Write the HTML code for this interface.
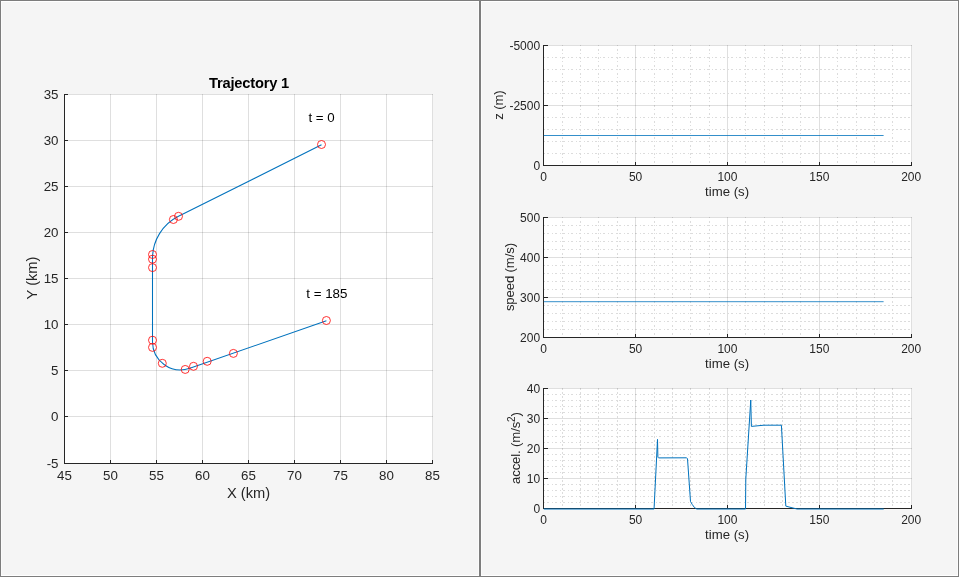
<!DOCTYPE html>
<html><head><meta charset="utf-8"><title>Trajectory 1</title>
<style>
html,body{margin:0;padding:0;background:#f5f5f5;overflow:hidden}
svg{display:block}
text{font-family:"Liberation Sans",sans-serif;fill:#262626}
.tk{font-size:13.33px}
.lb{font-size:14.67px}
.tk2{font-size:12px}
.lb2{font-size:13.2px}
.ti{font-size:14.67px;font-weight:bold;fill:#000}
.ax{stroke:#262626;stroke-width:1;fill:none;shape-rendering:crispEdges}
.gr{stroke:#262626;stroke-opacity:0.15;stroke-width:1;fill:none;shape-rendering:crispEdges}
.mgr{stroke:#dcdcdc;stroke-width:1;fill:none;stroke-dasharray:2 2;shape-rendering:crispEdges}
.mgv3{stroke:#dcdcdc;stroke-width:1;fill:none;stroke-dasharray:2 2;shape-rendering:crispEdges}
.mgv{stroke:#dcdcdc;stroke-width:1;fill:none;stroke-dasharray:2 2 1 3;stroke-dashoffset:4;shape-rendering:crispEdges}
.mg{stroke:#dcdcdc;stroke-width:1;fill:none;stroke-dasharray:2 3 1 2;stroke-dashoffset:4;shape-rendering:crispEdges}
.ln{stroke:#0072bd;stroke-width:0.8;fill:none;stroke-linejoin:round}
.mk{stroke:#ff0000;stroke-width:0.8;fill:none}
</style></head><body>
<svg width="959" height="577" viewBox="0 0 959 577">

<rect x="0" y="0" width="959" height="577" fill="#f5f5f5"/>
<rect x="0.5" y="0.5" width="479" height="576" fill="none" stroke="#7d7d7d" shape-rendering="crispEdges"/>
<rect x="1.5" y="1.5" width="477" height="574" fill="none" stroke="#fbfbfb" shape-rendering="crispEdges"/>
<path d="M1 1.5H479 M1 575.5H479" fill="none" stroke="#ffffff" shape-rendering="crispEdges"/>
<rect x="480.5" y="0.5" width="478" height="576" fill="none" stroke="#7d7d7d" shape-rendering="crispEdges"/>
<rect x="481.5" y="1.5" width="476" height="574" fill="none" stroke="#fbfbfb" shape-rendering="crispEdges"/>
<path d="M481 1.5H958 M481 575.5H958" fill="none" stroke="#ffffff" shape-rendering="crispEdges"/>
<rect x="64" y="94" width="369" height="370" fill="#fff"/>
<line x1="64.5" x2="64.5" y1="94" y2="464" class="gr"/>
<line x1="110.5" x2="110.5" y1="94" y2="464" class="gr"/>
<line x1="156.5" x2="156.5" y1="94" y2="464" class="gr"/>
<line x1="202.5" x2="202.5" y1="94" y2="464" class="gr"/>
<line x1="248.5" x2="248.5" y1="94" y2="464" class="gr"/>
<line x1="294.5" x2="294.5" y1="94" y2="464" class="gr"/>
<line x1="340.5" x2="340.5" y1="94" y2="464" class="gr"/>
<line x1="386.5" x2="386.5" y1="94" y2="464" class="gr"/>
<line x1="432.5" x2="432.5" y1="94" y2="464" class="gr"/>
<line x1="64" x2="433" y1="94.5" y2="94.5" class="gr"/>
<line x1="64" x2="433" y1="140.5" y2="140.5" class="gr"/>
<line x1="64" x2="433" y1="186.5" y2="186.5" class="gr"/>
<line x1="64" x2="433" y1="232.5" y2="232.5" class="gr"/>
<line x1="64" x2="433" y1="278.5" y2="278.5" class="gr"/>
<line x1="64" x2="433" y1="324.5" y2="324.5" class="gr"/>
<line x1="64" x2="433" y1="370.5" y2="370.5" class="gr"/>
<line x1="64" x2="433" y1="416.5" y2="416.5" class="gr"/>
<line x1="64" x2="433" y1="463.5" y2="463.5" class="gr"/>
<line x1="64.5" x2="64.5" y1="94" y2="464" class="ax"/>
<line x1="64" x2="433" y1="463.5" y2="463.5" class="ax"/>
<line x1="64.5" x2="64.5" y1="460" y2="464" class="ax"/>
<line x1="110.5" x2="110.5" y1="460" y2="464" class="ax"/>
<line x1="156.5" x2="156.5" y1="460" y2="464" class="ax"/>
<line x1="202.5" x2="202.5" y1="460" y2="464" class="ax"/>
<line x1="248.5" x2="248.5" y1="460" y2="464" class="ax"/>
<line x1="294.5" x2="294.5" y1="460" y2="464" class="ax"/>
<line x1="340.5" x2="340.5" y1="460" y2="464" class="ax"/>
<line x1="386.5" x2="386.5" y1="460" y2="464" class="ax"/>
<line x1="432.5" x2="432.5" y1="460" y2="464" class="ax"/>
<line x1="64" x2="68" y1="94.5" y2="94.5" class="ax"/>
<line x1="64" x2="68" y1="140.5" y2="140.5" class="ax"/>
<line x1="64" x2="68" y1="186.5" y2="186.5" class="ax"/>
<line x1="64" x2="68" y1="232.5" y2="232.5" class="ax"/>
<line x1="64" x2="68" y1="278.5" y2="278.5" class="ax"/>
<line x1="64" x2="68" y1="324.5" y2="324.5" class="ax"/>
<line x1="64" x2="68" y1="370.5" y2="370.5" class="ax"/>
<line x1="64" x2="68" y1="416.5" y2="416.5" class="ax"/>
<line x1="64" x2="68" y1="463.5" y2="463.5" class="ax"/>
<text x="64.5" y="479.6" text-anchor="middle" class="tk">45</text>
<text x="110.5" y="479.6" text-anchor="middle" class="tk">50</text>
<text x="156.5" y="479.6" text-anchor="middle" class="tk">55</text>
<text x="202.5" y="479.6" text-anchor="middle" class="tk">60</text>
<text x="248.5" y="479.6" text-anchor="middle" class="tk">65</text>
<text x="294.5" y="479.6" text-anchor="middle" class="tk">70</text>
<text x="340.5" y="479.6" text-anchor="middle" class="tk">75</text>
<text x="386.5" y="479.6" text-anchor="middle" class="tk">80</text>
<text x="432.5" y="479.6" text-anchor="middle" class="tk">85</text>
<text x="58.5" y="98.8" text-anchor="end" class="tk">35</text>
<text x="58.5" y="144.8" text-anchor="end" class="tk">30</text>
<text x="58.5" y="190.8" text-anchor="end" class="tk">25</text>
<text x="58.5" y="236.8" text-anchor="end" class="tk">20</text>
<text x="58.5" y="282.8" text-anchor="end" class="tk">15</text>
<text x="58.5" y="328.8" text-anchor="end" class="tk">10</text>
<text x="58.5" y="374.8" text-anchor="end" class="tk">5</text>
<text x="58.5" y="420.8" text-anchor="end" class="tk">0</text>
<text x="58.5" y="467.8" text-anchor="end" class="tk">-5</text>
<text x="249" y="87.7" text-anchor="middle" class="ti" letter-spacing="-0.2">Trajectory 1</text>
<text x="248.5" y="497.5" text-anchor="middle" class="lb">X (km)</text>
<text transform="translate(36.5,278) rotate(-90)" text-anchor="middle" class="lb">Y (km)</text>
<path d="M321.5 144.5 L178.49 216.00 A47 47 0 0 0 152.5 258.02 L152.5 341.5 A28.1 28.1 0 0 0 189.84 368.04 L326.4 320.5" class="ln" style="stroke-width:1.05" transform="translate(0,0.3)"/>
<circle cx="321.5" cy="144.5" r="4" class="mk"/>
<circle cx="173.4" cy="219.5" r="4" class="mk"/>
<circle cx="178.5" cy="216.3" r="4" class="mk"/>
<circle cx="152.5" cy="254.5" r="4" class="mk"/>
<circle cx="152.5" cy="259.2" r="4" class="mk"/>
<circle cx="152.5" cy="267.6" r="4" class="mk"/>
<circle cx="152.5" cy="340.2" r="4" class="mk"/>
<circle cx="152.5" cy="347.4" r="4" class="mk"/>
<circle cx="162.3" cy="363.3" r="4" class="mk"/>
<circle cx="185.2" cy="369.45" r="4" class="mk"/>
<circle cx="193.5" cy="366.3" r="4" class="mk"/>
<circle cx="207.2" cy="361.3" r="4" class="mk"/>
<circle cx="233.4" cy="353.4" r="4" class="mk"/>
<circle cx="326.4" cy="320.5" r="4" class="mk"/>
<text x="308.4" y="122" class="tk" fill="#000" style="fill:#000">t = 0</text>
<text x="306.3" y="297.5" class="tk" style="fill:#000">t = 185</text>
<rect x="543" y="45" width="369" height="121" fill="#fff"/>
<line x1="562.5" x2="562.5" y1="45" y2="165" class="mgv"/>
<line x1="580.5" x2="580.5" y1="45" y2="165" class="mgv"/>
<line x1="598.5" x2="598.5" y1="45" y2="165" class="mgv"/>
<line x1="617.5" x2="617.5" y1="45" y2="165" class="mgv"/>
<line x1="654.5" x2="654.5" y1="45" y2="165" class="mgv"/>
<line x1="672.5" x2="672.5" y1="45" y2="165" class="mgv"/>
<line x1="690.5" x2="690.5" y1="45" y2="165" class="mgv"/>
<line x1="709.5" x2="709.5" y1="45" y2="165" class="mgv"/>
<line x1="745.5" x2="745.5" y1="45" y2="165" class="mgv"/>
<line x1="764.5" x2="764.5" y1="45" y2="165" class="mgv"/>
<line x1="782.5" x2="782.5" y1="45" y2="165" class="mgv"/>
<line x1="800.5" x2="800.5" y1="45" y2="165" class="mgv"/>
<line x1="837.5" x2="837.5" y1="45" y2="165" class="mgv"/>
<line x1="856.5" x2="856.5" y1="45" y2="165" class="mgv"/>
<line x1="874.5" x2="874.5" y1="45" y2="165" class="mgv"/>
<line x1="892.5" x2="892.5" y1="45" y2="165" class="mgv"/>
<line x1="543" x2="776" y1="57.5" y2="57.5" class="mg"/>
<line x1="776" x2="911" y1="57.5" y2="57.5" class="mgr"/>
<line x1="543" x2="776" y1="69.5" y2="69.5" class="mg"/>
<line x1="776" x2="911" y1="69.5" y2="69.5" class="mgr"/>
<line x1="543" x2="776" y1="81.5" y2="81.5" class="mg"/>
<line x1="776" x2="911" y1="81.5" y2="81.5" class="mgr"/>
<line x1="543" x2="776" y1="93.5" y2="93.5" class="mg"/>
<line x1="776" x2="911" y1="93.5" y2="93.5" class="mgr"/>
<line x1="543" x2="776" y1="117.5" y2="117.5" class="mg"/>
<line x1="776" x2="911" y1="117.5" y2="117.5" class="mgr"/>
<line x1="543" x2="776" y1="129.5" y2="129.5" class="mg"/>
<line x1="776" x2="911" y1="129.5" y2="129.5" class="mgr"/>
<line x1="543" x2="776" y1="141.5" y2="141.5" class="mg"/>
<line x1="776" x2="911" y1="141.5" y2="141.5" class="mgr"/>
<line x1="543" x2="776" y1="153.5" y2="153.5" class="mg"/>
<line x1="776" x2="911" y1="153.5" y2="153.5" class="mgr"/>
<line x1="543.5" x2="543.5" y1="45" y2="166" class="gr"/>
<line x1="635.5" x2="635.5" y1="45" y2="166" class="gr"/>
<line x1="727.5" x2="727.5" y1="45" y2="166" class="gr"/>
<line x1="819.5" x2="819.5" y1="45" y2="166" class="gr"/>
<line x1="911.5" x2="911.5" y1="45" y2="166" class="gr"/>
<line x1="543" x2="912" y1="45.5" y2="45.5" class="gr"/>
<line x1="543" x2="912" y1="105.5" y2="105.5" class="gr"/>
<line x1="543" x2="912" y1="165.5" y2="165.5" class="gr"/>
<line x1="543.5" x2="543.5" y1="45" y2="166" class="ax"/>
<line x1="543" x2="912" y1="165.5" y2="165.5" class="ax"/>
<line x1="543.5" x2="543.5" y1="162" y2="166" class="ax"/>
<line x1="635.5" x2="635.5" y1="162" y2="166" class="ax"/>
<line x1="727.5" x2="727.5" y1="162" y2="166" class="ax"/>
<line x1="819.5" x2="819.5" y1="162" y2="166" class="ax"/>
<line x1="911.5" x2="911.5" y1="162" y2="166" class="ax"/>
<line x1="543" x2="548" y1="45.5" y2="45.5" class="ax"/>
<line x1="543" x2="548" y1="105.5" y2="105.5" class="ax"/>
<line x1="543" x2="548" y1="165.5" y2="165.5" class="ax"/>
<text x="543.70" y="180.6" text-anchor="middle" class="tk2">0</text>
<text x="635.57" y="180.6" text-anchor="middle" class="tk2">50</text>
<text x="727.45" y="180.6" text-anchor="middle" class="tk2">100</text>
<text x="819.32" y="180.6" text-anchor="middle" class="tk2">150</text>
<text x="911.20" y="180.6" text-anchor="middle" class="tk2">200</text>
<text x="540.1" y="49.8" text-anchor="end" class="tk2">-5000</text>
<text x="540.1" y="109.8" text-anchor="end" class="tk2">-2500</text>
<text x="540.1" y="169.8" text-anchor="end" class="tk2">0</text>
<text x="727.1" y="196" text-anchor="middle" class="lb2">time (s)</text>
<g transform="translate(503,105.1) rotate(-90)"><text text-anchor="middle" class="lb2" letter-spacing="-0.15">z (m)</text></g>
<path d="M543.8 135.5 L883.6 135.5" class="ln"/>
<rect x="543" y="217" width="369" height="121" fill="#fff"/>
<line x1="562.5" x2="562.5" y1="217" y2="337" class="mgv"/>
<line x1="580.5" x2="580.5" y1="217" y2="337" class="mgv"/>
<line x1="598.5" x2="598.5" y1="217" y2="337" class="mgv"/>
<line x1="617.5" x2="617.5" y1="217" y2="337" class="mgv"/>
<line x1="654.5" x2="654.5" y1="217" y2="337" class="mgv"/>
<line x1="672.5" x2="672.5" y1="217" y2="337" class="mgv"/>
<line x1="690.5" x2="690.5" y1="217" y2="337" class="mgv"/>
<line x1="709.5" x2="709.5" y1="217" y2="337" class="mgv"/>
<line x1="745.5" x2="745.5" y1="217" y2="337" class="mgv"/>
<line x1="764.5" x2="764.5" y1="217" y2="337" class="mgv"/>
<line x1="782.5" x2="782.5" y1="217" y2="337" class="mgv"/>
<line x1="800.5" x2="800.5" y1="217" y2="337" class="mgv"/>
<line x1="837.5" x2="837.5" y1="217" y2="337" class="mgv"/>
<line x1="856.5" x2="856.5" y1="217" y2="337" class="mgv"/>
<line x1="874.5" x2="874.5" y1="217" y2="337" class="mgv"/>
<line x1="892.5" x2="892.5" y1="217" y2="337" class="mgv"/>
<line x1="543" x2="776" y1="225.5" y2="225.5" class="mg"/>
<line x1="776" x2="911" y1="225.5" y2="225.5" class="mgr"/>
<line x1="543" x2="776" y1="233.5" y2="233.5" class="mg"/>
<line x1="776" x2="911" y1="233.5" y2="233.5" class="mgr"/>
<line x1="543" x2="776" y1="241.5" y2="241.5" class="mg"/>
<line x1="776" x2="911" y1="241.5" y2="241.5" class="mgr"/>
<line x1="543" x2="776" y1="249.5" y2="249.5" class="mg"/>
<line x1="776" x2="911" y1="249.5" y2="249.5" class="mgr"/>
<line x1="543" x2="776" y1="265.5" y2="265.5" class="mg"/>
<line x1="776" x2="911" y1="265.5" y2="265.5" class="mgr"/>
<line x1="543" x2="776" y1="273.5" y2="273.5" class="mg"/>
<line x1="776" x2="911" y1="273.5" y2="273.5" class="mgr"/>
<line x1="543" x2="776" y1="281.5" y2="281.5" class="mg"/>
<line x1="776" x2="911" y1="281.5" y2="281.5" class="mgr"/>
<line x1="543" x2="776" y1="289.5" y2="289.5" class="mg"/>
<line x1="776" x2="911" y1="289.5" y2="289.5" class="mgr"/>
<line x1="543" x2="776" y1="305.5" y2="305.5" class="mg"/>
<line x1="776" x2="911" y1="305.5" y2="305.5" class="mgr"/>
<line x1="543" x2="776" y1="313.5" y2="313.5" class="mg"/>
<line x1="776" x2="911" y1="313.5" y2="313.5" class="mgr"/>
<line x1="543" x2="776" y1="321.5" y2="321.5" class="mg"/>
<line x1="776" x2="911" y1="321.5" y2="321.5" class="mgr"/>
<line x1="543" x2="776" y1="329.5" y2="329.5" class="mg"/>
<line x1="776" x2="911" y1="329.5" y2="329.5" class="mgr"/>
<line x1="543.5" x2="543.5" y1="217" y2="338" class="gr"/>
<line x1="635.5" x2="635.5" y1="217" y2="338" class="gr"/>
<line x1="727.5" x2="727.5" y1="217" y2="338" class="gr"/>
<line x1="819.5" x2="819.5" y1="217" y2="338" class="gr"/>
<line x1="911.5" x2="911.5" y1="217" y2="338" class="gr"/>
<line x1="543" x2="912" y1="217.5" y2="217.5" class="gr"/>
<line x1="543" x2="912" y1="257.5" y2="257.5" class="gr"/>
<line x1="543" x2="912" y1="297.5" y2="297.5" class="gr"/>
<line x1="543" x2="912" y1="337.5" y2="337.5" class="gr"/>
<line x1="543.5" x2="543.5" y1="217" y2="338" class="ax"/>
<line x1="543" x2="912" y1="337.5" y2="337.5" class="ax"/>
<line x1="543.5" x2="543.5" y1="334" y2="338" class="ax"/>
<line x1="635.5" x2="635.5" y1="334" y2="338" class="ax"/>
<line x1="727.5" x2="727.5" y1="334" y2="338" class="ax"/>
<line x1="819.5" x2="819.5" y1="334" y2="338" class="ax"/>
<line x1="911.5" x2="911.5" y1="334" y2="338" class="ax"/>
<line x1="543" x2="548" y1="217.5" y2="217.5" class="ax"/>
<line x1="543" x2="548" y1="257.5" y2="257.5" class="ax"/>
<line x1="543" x2="548" y1="297.5" y2="297.5" class="ax"/>
<line x1="543" x2="548" y1="337.5" y2="337.5" class="ax"/>
<text x="543.70" y="352.6" text-anchor="middle" class="tk2">0</text>
<text x="635.57" y="352.6" text-anchor="middle" class="tk2">50</text>
<text x="727.45" y="352.6" text-anchor="middle" class="tk2">100</text>
<text x="819.32" y="352.6" text-anchor="middle" class="tk2">150</text>
<text x="911.20" y="352.6" text-anchor="middle" class="tk2">200</text>
<text x="540.1" y="221.8" text-anchor="end" class="tk2">500</text>
<text x="540.1" y="261.8" text-anchor="end" class="tk2">400</text>
<text x="540.1" y="301.8" text-anchor="end" class="tk2">300</text>
<text x="540.1" y="341.8" text-anchor="end" class="tk2">200</text>
<text x="727.1" y="368" text-anchor="middle" class="lb2">time (s)</text>
<g transform="translate(513.6,277.1) rotate(-90)"><text text-anchor="middle" class="lb2" letter-spacing="-0.15">speed (m/s)</text></g>
<path d="M543.8 301.7 L883.6 301.7" class="ln"/>
<rect x="543" y="388" width="369" height="121" fill="#fff"/>
<line x1="562.5" x2="562.5" y1="388" y2="508" class="mgv3"/>
<line x1="580.5" x2="580.5" y1="388" y2="508" class="mgv3"/>
<line x1="598.5" x2="598.5" y1="388" y2="508" class="mgv3"/>
<line x1="617.5" x2="617.5" y1="388" y2="508" class="mgv3"/>
<line x1="654.5" x2="654.5" y1="388" y2="508" class="mgv3"/>
<line x1="672.5" x2="672.5" y1="388" y2="508" class="mgv3"/>
<line x1="690.5" x2="690.5" y1="388" y2="508" class="mgv3"/>
<line x1="709.5" x2="709.5" y1="388" y2="508" class="mgv3"/>
<line x1="745.5" x2="745.5" y1="388" y2="508" class="mgv3"/>
<line x1="764.5" x2="764.5" y1="388" y2="508" class="mgv3"/>
<line x1="782.5" x2="782.5" y1="388" y2="508" class="mgv3"/>
<line x1="800.5" x2="800.5" y1="388" y2="508" class="mgv3"/>
<line x1="837.5" x2="837.5" y1="388" y2="508" class="mgv3"/>
<line x1="856.5" x2="856.5" y1="388" y2="508" class="mgv3"/>
<line x1="874.5" x2="874.5" y1="388" y2="508" class="mgv3"/>
<line x1="892.5" x2="892.5" y1="388" y2="508" class="mgv3"/>
<line x1="543" x2="776" y1="394.5" y2="394.5" class="mg"/>
<line x1="776" x2="911" y1="394.5" y2="394.5" class="mgr"/>
<line x1="543" x2="776" y1="400.5" y2="400.5" class="mg"/>
<line x1="776" x2="911" y1="400.5" y2="400.5" class="mgr"/>
<line x1="543" x2="776" y1="406.5" y2="406.5" class="mg"/>
<line x1="776" x2="911" y1="406.5" y2="406.5" class="mgr"/>
<line x1="543" x2="776" y1="412.5" y2="412.5" class="mg"/>
<line x1="776" x2="911" y1="412.5" y2="412.5" class="mgr"/>
<line x1="543" x2="776" y1="424.5" y2="424.5" class="mg"/>
<line x1="776" x2="911" y1="424.5" y2="424.5" class="mgr"/>
<line x1="543" x2="776" y1="430.5" y2="430.5" class="mg"/>
<line x1="776" x2="911" y1="430.5" y2="430.5" class="mgr"/>
<line x1="543" x2="776" y1="436.5" y2="436.5" class="mg"/>
<line x1="776" x2="911" y1="436.5" y2="436.5" class="mgr"/>
<line x1="543" x2="776" y1="442.5" y2="442.5" class="mg"/>
<line x1="776" x2="911" y1="442.5" y2="442.5" class="mgr"/>
<line x1="543" x2="776" y1="454.5" y2="454.5" class="mg"/>
<line x1="776" x2="911" y1="454.5" y2="454.5" class="mgr"/>
<line x1="543" x2="776" y1="460.5" y2="460.5" class="mg"/>
<line x1="776" x2="911" y1="460.5" y2="460.5" class="mgr"/>
<line x1="543" x2="776" y1="466.5" y2="466.5" class="mg"/>
<line x1="776" x2="911" y1="466.5" y2="466.5" class="mgr"/>
<line x1="543" x2="776" y1="472.5" y2="472.5" class="mg"/>
<line x1="776" x2="911" y1="472.5" y2="472.5" class="mgr"/>
<line x1="543" x2="776" y1="484.5" y2="484.5" class="mg"/>
<line x1="776" x2="911" y1="484.5" y2="484.5" class="mgr"/>
<line x1="543" x2="776" y1="490.5" y2="490.5" class="mg"/>
<line x1="776" x2="911" y1="490.5" y2="490.5" class="mgr"/>
<line x1="543" x2="776" y1="496.5" y2="496.5" class="mg"/>
<line x1="776" x2="911" y1="496.5" y2="496.5" class="mgr"/>
<line x1="543" x2="776" y1="502.5" y2="502.5" class="mg"/>
<line x1="776" x2="911" y1="502.5" y2="502.5" class="mgr"/>
<line x1="543.5" x2="543.5" y1="388" y2="509" class="gr"/>
<line x1="635.5" x2="635.5" y1="388" y2="509" class="gr"/>
<line x1="727.5" x2="727.5" y1="388" y2="509" class="gr"/>
<line x1="819.5" x2="819.5" y1="388" y2="509" class="gr"/>
<line x1="911.5" x2="911.5" y1="388" y2="509" class="gr"/>
<line x1="543" x2="912" y1="388.5" y2="388.5" class="gr"/>
<line x1="543" x2="912" y1="418.5" y2="418.5" class="gr"/>
<line x1="543" x2="912" y1="448.5" y2="448.5" class="gr"/>
<line x1="543" x2="912" y1="478.5" y2="478.5" class="gr"/>
<line x1="543" x2="912" y1="508.5" y2="508.5" class="gr"/>
<line x1="543.5" x2="543.5" y1="388" y2="509" class="ax"/>
<line x1="543" x2="912" y1="508.5" y2="508.5" class="ax"/>
<line x1="543.5" x2="543.5" y1="505" y2="509" class="ax"/>
<line x1="635.5" x2="635.5" y1="505" y2="509" class="ax"/>
<line x1="727.5" x2="727.5" y1="505" y2="509" class="ax"/>
<line x1="819.5" x2="819.5" y1="505" y2="509" class="ax"/>
<line x1="911.5" x2="911.5" y1="505" y2="509" class="ax"/>
<line x1="543" x2="548" y1="388.5" y2="388.5" class="ax"/>
<line x1="543" x2="548" y1="418.5" y2="418.5" class="ax"/>
<line x1="543" x2="548" y1="448.5" y2="448.5" class="ax"/>
<line x1="543" x2="548" y1="478.5" y2="478.5" class="ax"/>
<line x1="543" x2="548" y1="508.5" y2="508.5" class="ax"/>
<text x="543.70" y="523.6" text-anchor="middle" class="tk2">0</text>
<text x="635.57" y="523.6" text-anchor="middle" class="tk2">50</text>
<text x="727.45" y="523.6" text-anchor="middle" class="tk2">100</text>
<text x="819.32" y="523.6" text-anchor="middle" class="tk2">150</text>
<text x="911.20" y="523.6" text-anchor="middle" class="tk2">200</text>
<text x="540.1" y="392.8" text-anchor="end" class="tk2">40</text>
<text x="540.1" y="422.8" text-anchor="end" class="tk2">30</text>
<text x="540.1" y="452.8" text-anchor="end" class="tk2">20</text>
<text x="540.1" y="482.8" text-anchor="end" class="tk2">10</text>
<text x="540.1" y="512.8" text-anchor="end" class="tk2">0</text>
<text x="727.1" y="539" text-anchor="middle" class="lb2">time (s)</text>
<g transform="translate(519.5,448.1) rotate(-90)"><text text-anchor="middle" class="lb2" letter-spacing="-0.15">accel. (m/s<tspan dy="-5" font-size="10px">2</tspan><tspan dy="5">)</tspan></text></g>
<path d="M543.8 509 L654.05 509 L657.5 439.4 L657.9 457.2 L658.6 457.9 L686.6 457.8 L687.5 458.8 L690.5 501.5 L692.2 504.4 L694.5 507.6 L696.8 509 L745.5 509 L745.8 479 L750.75 400 L751.4 426.4 L764 425.2 L781.4 425.2 L785.8 506.1 L791 507.5 L797.1 509 L883.7 509" class="ln" style="stroke-width:1"/>
</svg></body></html>
